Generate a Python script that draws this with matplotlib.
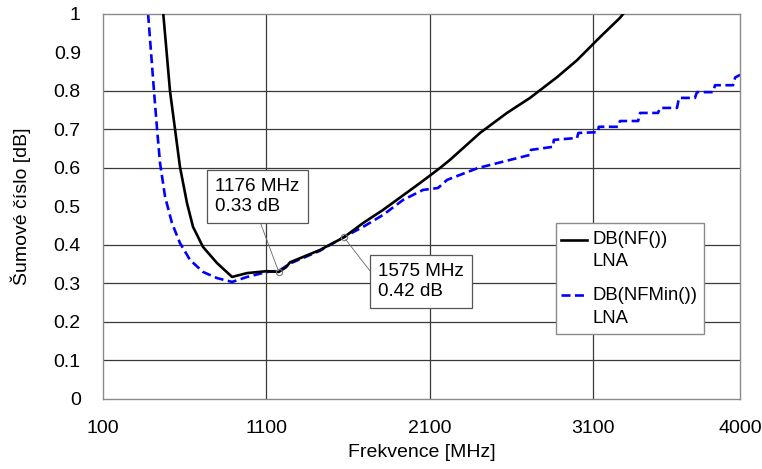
import matplotlib
matplotlib.use("Agg")
import matplotlib.pyplot as plt
from matplotlib.lines import Line2D
from matplotlib.patches import Rectangle

plt.rcParams["font.family"] = ["Liberation Sans", "DejaVu Sans"]

# Noise figure of the LNA, DB(NF())
nf_freq = [469, 510, 541, 571, 614, 651, 712, 798, 890, 982, 1104, 1176,
           1220, 1245, 1428, 1575, 1692, 1814, 2041, 2163, 2224, 2408,
           2573, 2714, 2880, 3002, 3143, 3265, 3284]
nf_db = [1.0, 0.8, 0.7, 0.603, 0.509, 0.447, 0.395, 0.353, 0.317, 0.327,
         0.332, 0.33, 0.342, 0.355, 0.387, 0.42, 0.457, 0.491, 0.561, 0.6,
         0.621, 0.691, 0.743, 0.782, 0.836, 0.88, 0.94, 0.99, 1.0]

# Minimum noise figure, DB(NFMin())
nfmin_freq = [376, 412, 431, 449, 480, 522, 571, 633, 712, 798, 890, 982,
              1104, 1178, 1245, 1428, 1563, 1692, 1814, 1937, 2059, 2151,
              2206, 2396, 2714, 2720, 2855, 2860, 3002, 3010, 3131, 3135,
              3253, 3265, 3376, 3388, 3498, 3510, 3614, 3626, 3724, 3736,
              3835, 3847, 3957, 3970, 4000]
nfmin_db = [1.0, 0.8, 0.7, 0.613, 0.525, 0.457, 0.405, 0.361, 0.33, 0.314,
            0.304, 0.317, 0.33, 0.333, 0.352, 0.385, 0.418, 0.447, 0.478,
            0.517, 0.543, 0.548, 0.569, 0.6, 0.634, 0.647, 0.655, 0.673,
            0.678, 0.691, 0.693, 0.707, 0.707, 0.722, 0.722, 0.743, 0.743,
            0.756, 0.756, 0.782, 0.782, 0.797, 0.797, 0.815, 0.815, 0.835,
            0.842]

# Marked points
markers = [(1176, 0.33, "1176 MHz\n0.33 dB"), (1575, 0.42, "1575 MHz\n0.42 dB")]

x_ticks = [100, 1100, 2100, 3100, 4000]
y_ticks = [0, 0.1, 0.2, 0.3, 0.4, 0.5, 0.6, 0.7, 0.8, 0.9, 1]
y_tick_labels = ["0", "0.1", "0.2", "0.3", "0.4", "0.5", "0.6", "0.7", "0.8", "0.9", "1"]
x_grid = [1100, 2100, 3100]
y_grid = [0.1, 0.2, 0.3, 0.4, 0.6, 0.7, 0.8]

fig = plt.figure(figsize=(7.62, 4.69), dpi=100)
ax = fig.add_axes([0.1352, 0.1493, 0.8360, 0.8209])
ax.set_xlim(100, 4000)
ax.set_ylim(0, 1)

for gx in x_grid:
    ax.axvline(gx, color="#3a3a3a", lw=0.9, zorder=1)
for gy in y_grid:
    ax.axhline(gy, color="#3a3a3a", lw=0.9, zorder=1)

ax.plot(nf_freq, nf_db, color="black", lw=1.9, zorder=3)
ax.plot(nfmin_freq, nfmin_db, color="#0000ff", lw=1.9,
        linestyle=(0, (3.4, 1.7)), zorder=2)

ax.set_xticks(x_ticks)
ax.set_xticklabels([str(v) for v in x_ticks])
ax.set_yticks(y_ticks)
ax.set_yticklabels(y_tick_labels)
ax.tick_params(length=0, labelsize=14, pad=16)
ax.tick_params(axis="x", pad=15)
for s in ax.spines.values():
    s.set_color("#8a8a8a")
    s.set_linewidth(1.0)

ax.set_xlabel("Frekvence [MHz]", fontsize=14, labelpad=5)
ax.set_ylabel("Šumové číslo [dB]", fontsize=14, labelpad=16)

# Marker annotations
text_pos = [(786, 0.574), (1784, 0.353)]
rel_pos = [(0.5, 0.0), (0.0, 0.5)]
for (fx, fy, label), (tx, ty), rp in zip(markers, text_pos, rel_pos):
    ax.plot([fx], [fy], marker="o", ms=4.5, mfc="none", mec="#777777",
            mew=0.8, zorder=4)
    ax.annotate(label, xy=(fx, fy), xytext=(tx, ty), ha="left", va="top",
                fontsize=13.6, zorder=5,
                bbox=dict(boxstyle="square,pad=0.42", fc="white",
                          ec="#555555", lw=0.9),
                arrowprops=dict(arrowstyle="-", color="#666666", lw=0.6,
                                relpos=rp, shrinkA=0, shrinkB=2))

# Legend
ax.add_patch(Rectangle((0.711, 0.169), 0.232, 0.288, transform=ax.transAxes,
                       fc="white", ec="#8a8a8a", lw=1.0, zorder=6))
ax.add_line(Line2D([0.719, 0.760], [0.413, 0.413], transform=ax.transAxes,
                   color="black", lw=1.9, zorder=7))
ax.add_line(Line2D([0.719, 0.760], [0.270, 0.270], transform=ax.transAxes,
                   color="#0000ff", lw=1.9, linestyle=(0, (3.4, 1.7)), zorder=7))
ax.text(0.768, 0.413, "DB(NF())", transform=ax.transAxes, ha="left",
        va="center", fontsize=13.3, zorder=8)
ax.text(0.768, 0.356, "LNA", transform=ax.transAxes, ha="left",
        va="center", fontsize=13.3, zorder=8)
ax.text(0.768, 0.270, "DB(NFMin())", transform=ax.transAxes, ha="left",
        va="center", fontsize=13.3, zorder=8)
ax.text(0.768, 0.210, "LNA", transform=ax.transAxes, ha="left",
        va="center", fontsize=13.3, zorder=8)

fig.savefig("out.png", dpi=100)
